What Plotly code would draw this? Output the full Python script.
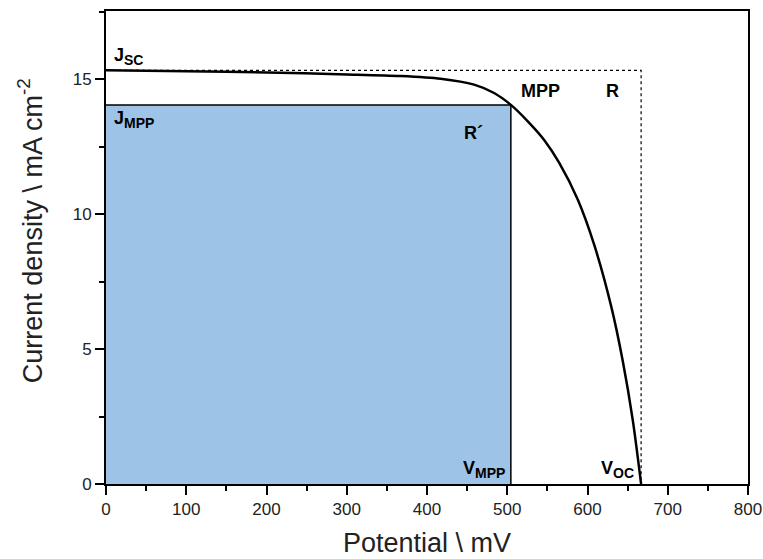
import plotly.graph_objects as go

# J-V curve
V_curve = [0, 100, 200, 300, 367, 417, 458.7, 483.6, 504.5, 525.3, 546, 564.8, 587.7, 608.5, 629.4, 644, 656.5, 666.8]
J_curve = [15.33, 15.30, 15.25, 15.18, 15.12, 15.02, 14.80, 14.49, 14.05, 13.45, 12.75, 11.90, 10.55, 8.85, 6.60, 4.55, 2.35, 0.0]

V_MPP = 504.5
J_MPP = 14.05
V_OC = 666.8
J_SC = 15.33

FONT = "Arial, Liberation Sans, sans-serif"

fig = go.Figure()

# Filled rectangle R'
fig.add_trace(go.Scatter(
    x=[0, 0, V_MPP, V_MPP, 0], y=[0, J_MPP, J_MPP, 0, 0],
    mode="none", fill="toself", fillcolor="#9DC3E6", hoverinfo="skip", showlegend=False))
# R' border (top and right)
fig.add_trace(go.Scatter(
    x=[0, V_MPP, V_MPP], y=[J_MPP, J_MPP, 0],
    mode="lines", line=dict(color="black", width=1.5), showlegend=False))
# Dotted rectangle R
fig.add_trace(go.Scatter(
    x=[0, V_OC, V_OC], y=[J_SC, J_SC, 0],
    mode="lines", line=dict(color="black", width=1.2, dash="dot"), showlegend=False))
# J-V curve
fig.add_trace(go.Scatter(
    x=V_curve, y=J_curve, mode="lines", line=dict(color="black", width=2.5, shape="spline", smoothing=0.8),
    showlegend=False))


def sub(main, s):
    return "<b>%s<sub><span style='font-size:14px'>%s</span></sub></b>" % (main, s)


ann_font = dict(family=FONT, size=18, color="black")
labels = [
    (8, 15.85, sub("J", "SC"), "left"),
    (8, 13.5, sub("J", "MPP"), "left"),
    (515, 14.55, "<b>MPP</b>", "left"),
    (621, 14.55, "<b>R</b>", "left"),
    (444, 13.0, "<b>R´</b>", "left"),
    (500, 0.55, sub("V", "MPP"), "right"),
    (660, 0.55, sub("V", "OC"), "right"),
]
for x, y, t, xa in labels:
    fig.add_annotation(x=x, y=y, text=t, showarrow=False, xanchor=xa, yanchor="middle",
                       font=ann_font)

# y-axis title as rotated annotation
fig.add_annotation(xref="paper", yref="paper", x=-0.118, y=0.535,
                   text="Current density \\ mA cm<sup>-2</sup>", textangle=-90, showarrow=False,
                   xanchor="center", yanchor="middle",
                   font=dict(family=FONT, size=27, color="#222222"))

axis_common = dict(
    showline=True, linecolor="black", linewidth=2, mirror=True,
    ticks="outside", ticklen=9, tickwidth=1.5, tickcolor="black",
    showgrid=False, zeroline=False, automargin=False,
    tickfont=dict(family=FONT, size=17, color="#222222"),
)

fig.update_xaxes(range=[0, 800], tickvals=[0, 100, 200, 300, 400, 500, 600, 700, 800],
                 minor=dict(ticks="outside", ticklen=5, tickwidth=1.5, tickcolor="black", dtick=50, tick0=0),
                 title=dict(text="Potential \\ mV", font=dict(family=FONT, size=27, color="#222222"), standoff=15),
                 **axis_common)
fig.update_yaxes(range=[0, 17.53], tickvals=[0, 5, 10, 15],
                 minor=dict(ticks="outside", ticklen=5, tickwidth=1.5, tickcolor="black", dtick=2.5, tick0=0),
                 **axis_common)

fig.update_layout(
    width=763, height=559,
    margin=dict(l=106, r=15, t=11, b=75),
    plot_bgcolor="white", paper_bgcolor="white",
)

fig.write_html("out.html")
